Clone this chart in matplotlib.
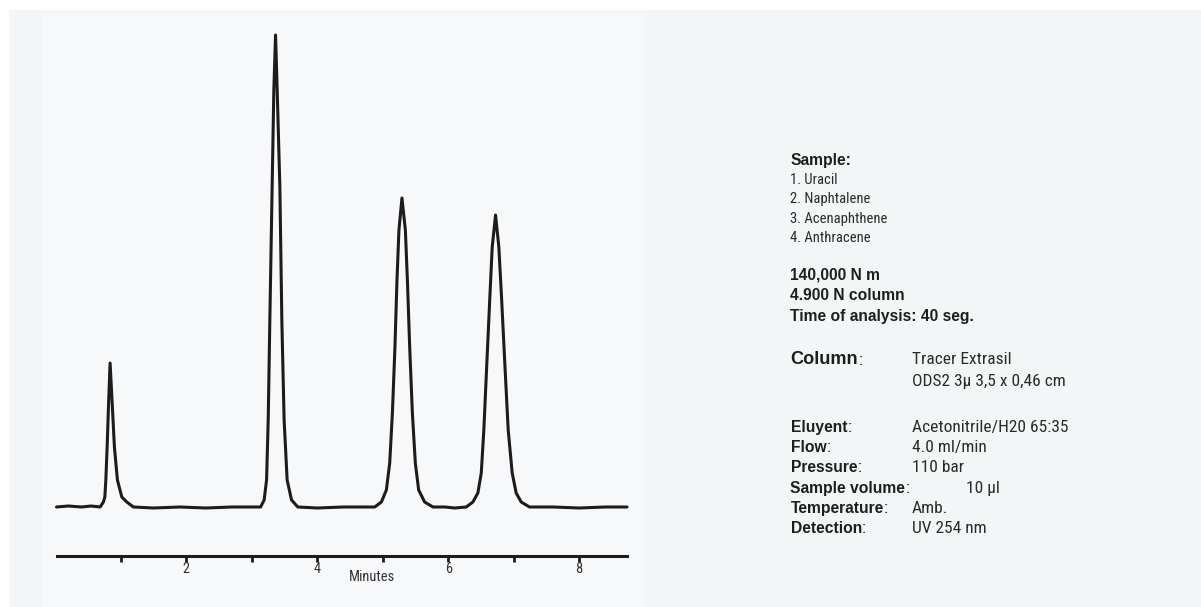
import matplotlib
matplotlib.use('Agg')
import matplotlib.pyplot as plt
import numpy as np
from matplotlib.patches import Rectangle
from matplotlib import font_manager as fm

W, H = 1201, 607

# ---------------- data (time in minutes, signal in arbitrary units) ----------------
base_a_t = [0.02, 0.2, 0.4, 0.55, 0.686]
base_a_h = [0, 1, 0, 1, 0]
peak1_t = [0.736, 0.758, 0.773, 0.793, 0.813, 0.838, 0.873, 0.904, 0.950, 1.017, 1.093]
peak1_h = [5, 10, 27, 60, 100, 144, 100, 60, 27, 10, 5]
base_b_t = [1.194, 1.5, 1.9, 2.3, 2.7, 3.0, 3.136]
base_b_h = [0, -1, 0, -1, 0, 0, 0]
peak2_t = [3.190, 3.227, 3.252, 3.277, 3.312, 3.338, 3.364, 3.389, 3.430, 3.460, 3.495, 3.541, 3.608]
peak2_h = [7, 27, 87, 187, 320, 417, 472, 417, 320, 187, 87, 27, 7]
base_c_t = [3.704, 4.0, 4.4, 4.7, 4.878]
base_c_h = [0, -1, 0, 0, 0]
peak3_t = [4.980, 5.056, 5.107, 5.148, 5.187, 5.218, 5.248, 5.294, 5.346, 5.377, 5.412, 5.453, 5.498, 5.549, 5.640]
peak3_h = [5, 17, 44, 94, 160, 227, 277, 309, 277, 227, 160, 94, 44, 17, 5]
base_d_t = [5.767, 5.95, 6.1, 6.276]
base_d_h = [0, 0, -1, 0]
peak4_t = [6.377, 6.453, 6.505, 6.544, 6.590, 6.636, 6.672, 6.723, 6.773, 6.814, 6.864, 6.916, 6.977, 7.038, 7.114]
peak4_h = [5, 14, 34, 77, 144, 210, 260, 292, 260, 210, 144, 77, 34, 14, 5]
base_e_t = [7.241, 7.6, 8.0, 8.4, 8.73]
base_e_h = [0, 0, -1, 0, 0]

tick_minutes = [1, 2, 3, 4, 5, 6, 7, 8]
tick_labels = ['', '2', '', '4', '', '6', '', '8']
x_label = 'Minutes'

sample_title = 'Sample:'
sample_items = ['1. Uracil', '2. Naphtalene', '3. Acenaphthene', '4. Anthracene']
stats_lines = ['140,000 N m', '4.900 N column', 'Time of analysis: 40 seg.']
column_label = 'Column'
column_values = ['Tracer Extrasil', 'ODS2 3\u00b5 3,5 x 0,46 cm']
cond_labels = ['Eluyent', 'Flow', 'Pressure', 'Sample volume', 'Temperature', 'Detection']
cond_values = ['Acetonitrile/H20 65:35', '4.0 ml/min', '110 bar', '10 \u00b5l', 'Amb.', 'UV 254 nm']

# ---------------- fonts ----------------
def pick_condensed():
    entries = fm.fontManager.ttflist
    names = {e.name for e in entries}
    for p in ['Liberation Sans Narrow', 'Arial Narrow', 'Nimbus Sans Narrow', 'Roboto Condensed',
              'Noto Sans Condensed', 'Open Sans Condensed', 'DejaVu Sans Condensed']:
        if p in names:
            return {'family': [p, 'DejaVu Sans']}
    for e in entries:
        if (str(e.stretch) in ('condensed', 'semi-condensed', 'extra-condensed')
                and e.style == 'normal' and str(e.weight) in ('400', 'normal', 'regular', 'book')):
            return {'family': [e.name, 'DejaVu Sans'], 'fontstretch': e.stretch}
    return {'family': ['Liberation Sans', 'DejaVu Sans']}

COND = pick_condensed()
BOLD = {'family': ['Liberation Sans', 'DejaVu Sans'], 'fontweight': 'bold'}

fig = plt.figure(figsize=(W / 100, H / 100), dpi=100, facecolor='white')
renderer = fig.canvas.get_renderer()

def size_for(text, kw, target_px):
    t = fig.text(0, 0, text, fontsize=20, **kw)
    w = t.get_window_extent(renderer=renderer).width
    t.remove()
    return 20 * target_px / w

list_size = size_for('2. Naphtalene', COND, 80)
big_size = 0.5 * (size_for('ODS2 3\u00b5 3,5 x 0,46 cm', COND, 160)
                  + size_for('Acetonitrile/H20 65:35', COND, 150))
axis_size = size_for('Minutes', COND, 46)
bold_size = 0.5 * (size_for('Time of analysis: 40 seg.', BOLD, 186) + size_for('Sample:', BOLD, 60))
col_size = size_for('Column', BOLD, 67.5)

def fx(x):
    return x / W

def fy(y):
    return 1 - y / H

fig.add_artist(Rectangle((fx(9), 0), 1 - fx(9), fy(10), transform=fig.transFigure,
                         facecolor='#f3f6f7', edgecolor='none', zorder=-20))
fig.add_artist(Rectangle((fx(42), 0), fx(643) - fx(42), fy(13), transform=fig.transFigure,
                         facecolor='#f7f8fa', edgecolor='none', zorder=-19))

# axes: t=0 at px 55.2, 65.5 px per minute; baseline at px 507, axis line at 556
x0_px, px_per_min = 55.2, 65.5
ax = fig.add_axes([fx(x0_px), fy(556), fx(9 * px_per_min), (556 - 20) / H])
ax.set_xlim(0, 9)
ax.set_ylim(-49, 487)
ax.patch.set_alpha(0)

t = np.concatenate([base_a_t, peak1_t, base_b_t, peak2_t, base_c_t, peak3_t, base_d_t, peak4_t, base_e_t])
h = np.concatenate([base_a_h, peak1_h, base_b_h, peak2_h, base_c_h, peak3_h, base_d_h, peak4_h, base_e_h])
ax.plot(t, h, color='#1c1c1c', lw=2.2, solid_joinstyle='round', solid_capstyle='round')

for s in ['left', 'right', 'top']:
    ax.spines[s].set_visible(False)
ax.spines['bottom'].set_bounds(0.02, 8.73)
ax.spines['bottom'].set_linewidth(2.2)
ax.spines['bottom'].set_color('#1c1c1c')
ax.set_yticks([])
ax.set_xticks(tick_minutes)
ax.set_xticklabels(tick_labels, fontsize=axis_size, color='#333333', **COND)
ax.tick_params(axis='x', direction='out', length=4, width=2, color='#1c1c1c', pad=0.5)

fig.text(fx(372), fy(577), x_label, ha='center', va='center', fontsize=axis_size,
         color='#333333', **COND)

# ---------------- right text panel ----------------
TX = 790.5
VX = 911.5
dark = '#1e1e1e'
reg = '#2a2a2a'

fig.text(fx(TX), fy(165), sample_title, ha='left', va='baseline', fontsize=bold_size,
         color=dark, **BOLD)
for i, s in enumerate(sample_items):
    fig.text(fx(TX), fy(184 + 19.3 * i), s, ha='left', va='baseline', fontsize=list_size,
             color=reg, **COND)
for i, s in enumerate(stats_lines):
    fig.text(fx(TX), fy(280 + 20.3 * i), s, ha='left', va='baseline', fontsize=bold_size,
             color=dark, **BOLD)

def label_with_colon(x, y, text, size):
    lab = fig.text(fx(x), fy(y), text, ha='left', va='baseline', fontsize=size,
                   color=dark, **BOLD)
    ax.annotate(':', xy=(1, 0), xycoords=lab, xytext=(0.3, 0), textcoords='offset points',
                ha='left', va='bottom', fontsize=big_size, color=reg,
                annotation_clip=False, **COND)

label_with_colon(TX, 364.3, column_label, col_size)
fig.text(fx(VX), fy(364.3), column_values[0], ha='left', va='baseline', fontsize=big_size,
         color=reg, **COND)
fig.text(fx(VX), fy(386), column_values[1], ha='left', va='baseline', fontsize=big_size,
         color=reg, **COND)

for i, (lab, val) in enumerate(zip(cond_labels, cond_values)):
    y = 431.7 + 20.3 * i
    label_with_colon(TX, y, lab, bold_size)
    vx = 966 if lab == 'Sample volume' else VX
    fig.text(fx(vx), fy(y), val, ha='left', va='baseline', fontsize=big_size,
             color=reg, **COND)

fig.savefig('out.png', dpi=100, facecolor='white')
